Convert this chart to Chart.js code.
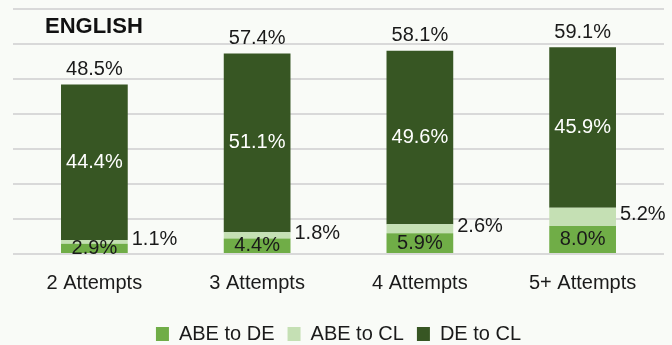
<!DOCTYPE html>
<html>
<head>
<meta charset="utf-8">
<script src="https://cdn.jsdelivr.net/npm/chart.js@4.4.1/dist/chart.umd.min.js"></script>
<style>
  html, body { margin: 0; padding: 0; background: #f9fbf7; }
  #wrap { width: 672px; height: 345px; }
</style>
</head>
<body>
<div id="wrap"><canvas id="chart" width="672" height="345"></canvas></div>
<script>
const categories = ['2 Attempts', '3 Attempts', '4 Attempts', '5+ Attempts'];
const abeToDe = [2.9, 4.4, 5.9, 8.0];
const abeToCl = [1.1, 1.8, 2.6, 5.2];
const deToCl = [44.4, 51.1, 49.6, 45.9];
const totals = [48.5, 57.4, 58.1, 59.1];
const chartTitle = 'ENGLISH';

const FONT = "'Liberation Sans', Arial, sans-serif";
const TEXT = '#1a1a1a';

// value labels on the segments, totals over the bars, and the corner title
const labelPlugin = {
    id: 'barLabels',
    afterDatasetsDraw: function (chart) {
        const ctx = chart.ctx;
        ctx.save();
        ctx.font = '20px ' + FONT;
        ctx.textBaseline = 'middle';

        const m0 = chart.getDatasetMeta(0).data;
        const m1 = chart.getDatasetMeta(1).data;
        const m2 = chart.getDatasetMeta(2).data;

        m0.forEach(function (bar, i) {
            ctx.fillStyle = TEXT;
            ctx.textAlign = 'center';
            ctx.fillText(abeToDe[i].toFixed(1) + '%', bar.x, (bar.y + bar.base) / 2);
        });
        m1.forEach(function (bar, i) {
            ctx.fillStyle = TEXT;
            ctx.textAlign = 'left';
            ctx.fillText(abeToCl[i].toFixed(1) + '%', bar.x + bar.width / 2 + 4, (bar.y + bar.base) / 2 - 2);
        });
        m2.forEach(function (bar, i) {
            ctx.fillStyle = '#ffffff';
            ctx.textAlign = 'center';
            ctx.fillText(deToCl[i].toFixed(1) + '%', bar.x, (bar.y + bar.base) / 2);
            ctx.fillStyle = TEXT;
            ctx.fillText(totals[i].toFixed(1) + '%', bar.x, bar.y - 15);
        });

        ctx.font = 'bold 22px ' + FONT;
        ctx.textAlign = 'left';
        ctx.fillStyle = '#111111';
        ctx.fillText(chartTitle, 45, 27);
        ctx.restore();
    }
};

new Chart(document.getElementById('chart'), {
    type: 'bar',
    data: {
        labels: categories,
        datasets: [
            { label: 'ABE to DE', data: abeToDe, backgroundColor: '#70ad47' },
            { label: 'ABE to CL', data: abeToCl, backgroundColor: '#c5e0b4' },
            { label: 'DE to CL', data: deToCl, backgroundColor: '#375623' }
        ]
    },
    options: {
        responsive: false,
        animation: false,
        layout: { padding: { left: 13, right: 8, top: 9, bottom: -9 } },
        datasets: {
            bar: { categoryPercentage: 1, barPercentage: 0.41 }
        },
        scales: {
            x: {
                stacked: true,
                grid: { display: false },
                border: { display: false },
                ticks: { color: TEXT, font: { family: FONT, size: 20 }, padding: 9 },
                afterFit: function (scale) { scale.height = 57; }
            },
            y: {
                stacked: true,
                min: 0,
                max: 70,
                ticks: { display: false, stepSize: 10 },
                grid: { color: '#d9d9d9', lineWidth: 2, drawTicks: false },
                border: { display: false }
            }
        },
        plugins: {
            legend: {
                position: 'bottom',
                labels: {
                    color: TEXT,
                    font: { family: FONT, size: 20 },
                    boxWidth: 13,
                    boxHeight: 14,
                    padding: 13
                }
            },
            tooltip: { enabled: false }
        }
    },
    plugins: [labelPlugin]
});
</script>
</body>
</html>
